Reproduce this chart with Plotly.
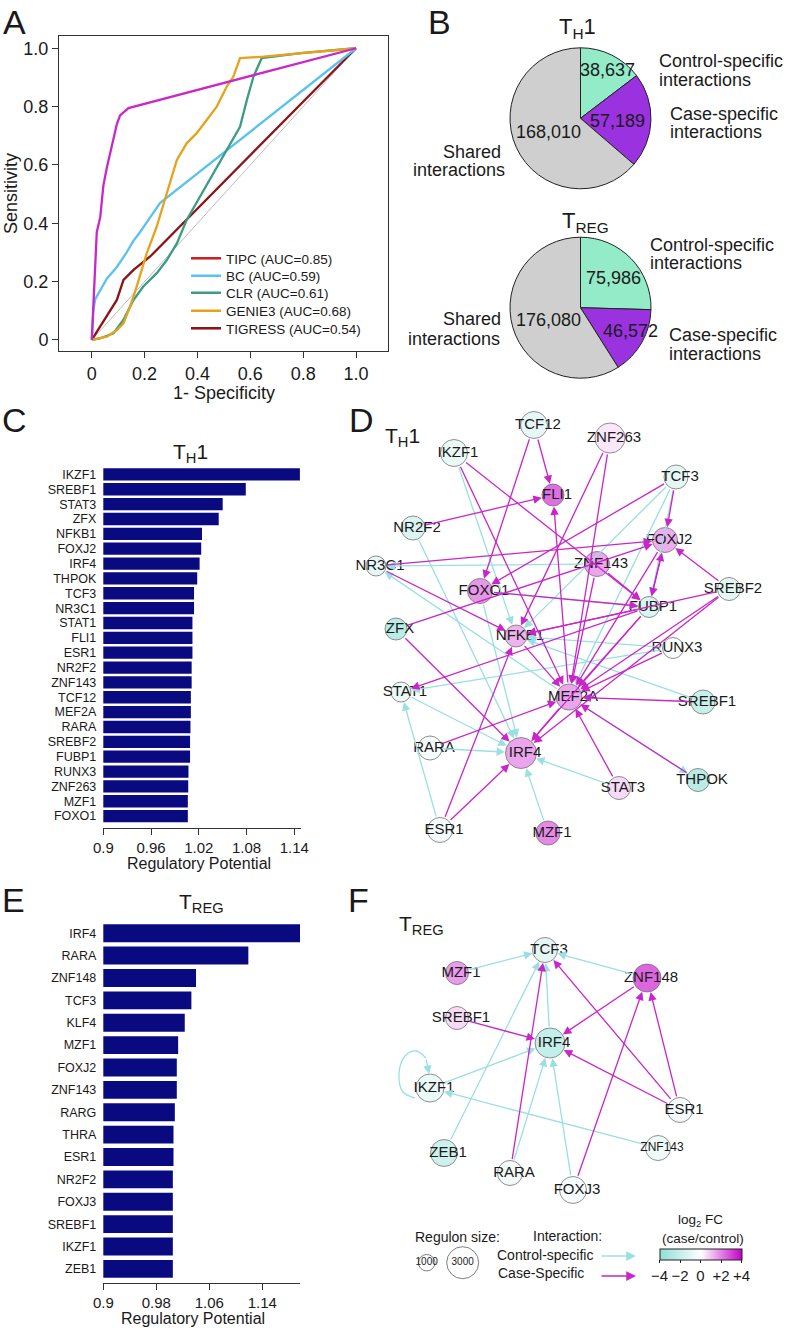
import plotly.graph_objects as go

W, H = 796, 1328


def X(px):
    return px / W


def Y(py):
    return 1 - py / H


SANS = "Liberation Sans, Arial, Helvetica, sans-serif"
INK = "#1a1a1a"

# ---------------- A: ROC curves ----------------
roc_names = ["TIPC (AUC=0.85)", "BC (AUC=0.59)", "CLR (AUC=0.61)",
             "GENIE3 (AUC=0.68)", "TIGRESS (AUC=0.54)"]
tipc_fpr = [0, 0.006, 0.013, 0.019, 0.032, 0.044, 0.057, 0.076, 0.095, 0.107, 0.12, 0.139, 1.0]
tipc_tpr = [0, 0.12, 0.25, 0.37, 0.42, 0.53, 0.59, 0.67, 0.74, 0.77, 0.78, 0.795, 1.0]
bc_fpr = [0, 0.006, 0.013, 0.032, 0.057, 0.095, 0.132, 0.158, 0.183, 0.221, 0.259, 1.0]
bc_tpr = [0, 0.10, 0.14, 0.17, 0.21, 0.25, 0.30, 0.34, 0.37, 0.42, 0.47, 1.0]
clr_fpr = [0, 0.03, 0.06, 0.082, 0.12, 0.158, 0.195, 0.246, 0.284, 0.322, 0.359, 0.41,
           0.46, 0.511, 0.561, 0.587, 0.612, 0.643, 0.79, 1.0]
clr_tpr = [0, 0.005, 0.015, 0.023, 0.069, 0.137, 0.183, 0.229, 0.274, 0.331, 0.411, 0.491,
           0.571, 0.651, 0.731, 0.823, 0.903, 0.966, 0.983, 1.0]
genie3_fpr = [0, 0.057, 0.095, 0.12, 0.145, 0.17, 0.208, 0.246, 0.284, 0.322, 0.359, 0.397,
              0.435, 0.473, 0.511, 0.536, 0.561, 0.65, 1.0]
genie3_tpr = [0, 0.011, 0.034, 0.057, 0.114, 0.183, 0.297, 0.389, 0.503, 0.617, 0.674, 0.709,
              0.754, 0.80, 0.869, 0.903, 0.966, 0.971, 1.0]
tigress_fpr = [0, 0.032, 0.057, 0.095, 0.12, 0.158, 0.221, 1.0]
tigress_tpr = [0, 0.046, 0.086, 0.137, 0.206, 0.24, 0.286, 1.0]
roc_ticks = [0, 0.2, 0.4, 0.6, 0.8, 1.0]
roc_ticktext = ["0", "0.2", "0.4", "0.6", "0.8", "1.0"]

# ---------------- B: pies ----------------
pie_labels = ["Control-specific interactions", "Case-specific interactions", "Shared interactions"]
th1_counts = [38637, 57189, 168010]
treg_counts = [75986, 46572, 176080]

# ---------------- C / E: regulatory potential ----------------
th1_tfs = ["IKZF1", "SREBF1", "STAT3", "ZFX", "NFKB1", "FOXJ2", "IRF4", "THPOK", "TCF3",
           "NR3C1", "STAT1", "FLI1", "ESR1", "NR2F2", "ZNF143", "TCF12", "MEF2A", "RARA",
           "SREBF2", "FUBP1", "RUNX3", "ZNF263", "MZF1", "FOXO1"]
th1_rp = [1.147, 1.079, 1.050, 1.045, 1.024, 1.023, 1.021, 1.018, 1.014, 1.014, 1.012, 1.012,
          1.012, 1.011, 1.011, 1.010, 1.010, 1.0095, 1.009, 1.009, 1.007, 1.0067, 1.0062, 1.0062]
th1_ticks = [0.9, 0.96, 1.02, 1.08, 1.14]
treg_tfs = ["IRF4", "RARA", "ZNF148", "TCF3", "KLF4", "MZF1", "FOXJ2", "ZNF143", "RARG",
            "THRA", "ESR1", "NR2F2", "FOXJ3", "SREBF1", "IKZF1", "ZEB1"]
treg_rp = [1.197, 1.119, 1.040, 1.033, 1.023, 1.013, 1.011, 1.011, 1.008, 1.006, 1.006,
           1.005, 1.005, 1.005, 1.005, 1.005]
treg_ticks = [0.9, 0.98, 1.06, 1.14]

# ---------------- D: TH1 network ----------------
d_nodes = ["TCF12", "ZNF263", "IKZF1", "FLI1", "TCF3", "NR2F2", "FOXJ2", "NR3C1", "ZNF143",
           "SREBF2", "FOXO1", "FUBP1", "ZFX", "NFKB1", "RUNX3", "STAT1", "MEF2A", "SREBF1",
           "RARA", "IRF4", "STAT3", "THPOK", "ESR1", "MZF1"]
d_x = [534, 610, 454, 553, 676, 413, 665, 376, 597, 729, 480, 649, 396, 516, 673, 401, 569,
       703, 430, 521, 619, 698, 440, 548]
d_y = [425, 438, 453, 495, 477, 528, 540, 566, 564, 589, 591, 607, 629, 636, 648, 692, 697,
       702, 748, 753, 788, 780, 830, 833]
d_fc = [-1.2, 0.5, -1.0, 3.2, -1.3, -1.8, 1.8, -1.2, 2.0, -1.3, 2.3, -1.8, -3.5, 1.7, -0.3,
        -1.0, 2.0, -2.8, -0.5, 2.0, 0.8, -3.5, -0.5, 2.6]
d_size = [2350, 2740, 2350, 1710, 1970, 1970, 2100, 1450, 2100, 1840, 2100, 1580, 1710, 1710,
          1580, 1450, 2230, 1970, 1970, 2870, 1840, 1840, 2100, 1970]
d_case_src = ["TCF12", "TCF12", "ZNF263", "ZNF263", "IKZF1", "IKZF1", "NR2F2", "TCF3", "TCF3",
              "NR3C1", "NR3C1", "FOXO1", "ZFX", "ZFX", "ZNF143", "ZNF143", "FOXJ2", "FUBP1",
              "FOXJ2", "SREBF2", "SREBF2", "SREBF2", "FUBP1", "FUBP1", "FUBP1", "MEF2A",
              "RUNX3", "SREBF1", "THPOK", "STAT3", "RARA", "ESR1", "ESR1", "NFKB1", "MEF2A",
              "FUBP1", "SREBF2"]
d_case_tgt = ["FLI1", "FOXO1", "NFKB1", "MEF2A", "MEF2A", "FUBP1", "FLI1", "FOXJ2", "FOXO1",
              "FOXJ2", "NFKB1", "FUBP1", "FOXJ2", "IRF4", "FUBP1", "MEF2A", "FUBP1", "FOXJ2",
              "MEF2A", "FOXJ2", "NFKB1", "MEF2A", "NFKB1", "MEF2A", "STAT1", "FLI1",
              "MEF2A", "MEF2A", "MEF2A", "MEF2A", "MEF2A", "NFKB1", "IRF4", "MEF2A", "IRF4",
              "IRF4", "IRF4"]
d_ctrl_src = ["IKZF1", "NR2F2", "TCF3", "TCF3", "TCF3", "ZNF143", "MEF2A", "FOXO1", "RUNX3",
              "RUNX3", "SREBF1", "MEF2A", "STAT1", "RARA", "ESR1", "MZF1", "STAT3", "FOXO1"]
d_ctrl_tgt = ["NFKB1", "IRF4", "NFKB1", "MEF2A", "FUBP1", "NR3C1", "NR3C1", "FUBP1", "NFKB1",
              "STAT1", "NFKB1", "THPOK", "IRF4", "IRF4", "STAT1", "IRF4", "IRF4", "IRF4"]

# ---------------- F: TREG network ----------------
f_nodes = ["TCF3", "MZF1", "ZNF148", "SREBF1", "IRF4", "IKZF1", "ESR1", "ZEB1", "ZNF143",
           "RARA", "FOXJ3"]
f_x = [545, 457, 647, 457, 550, 430, 680, 444, 658, 510, 573]
f_y = [950, 973, 978, 1018, 1043, 1088, 1110, 1153, 1148, 1173, 1190]
f_fc = [-1.3, 2.2, 3.4, 0.8, -3.0, -1.0, -0.5, -2.5, -0.8, -0.6, -0.4]
f_size = [2100, 1840, 2480, 1840, 2740, 2480, 2100, 2350, 2100, 2100, 2350]
f_case_src = ["RARA", "SREBF1", "ZNF148", "ESR1", "ESR1", "ESR1", "FOXJ3"]
f_case_tgt = ["TCF3", "IRF4", "IRF4", "IRF4", "TCF3", "ZNF148", "ZNF148"]
f_ctrl_src = ["MZF1", "ZNF148", "IRF4", "ZEB1", "IKZF1", "RARA", "FOXJ3", "ZNF143"]
f_ctrl_tgt = ["TCF3", "TCF3", "TCF3", "TCF3", "IRF4", "IRF4", "IRF4", "IKZF1"]
f_self_loops = ["IKZF1"]
legend_sizes = [1000, 3000]
fc_ticks = [-4, -2, 0, 2, 4]
fc_ticktext = ["\u22124", "\u22122", "0", "+2", "+4"]

# ---------------- styles ----------------
ROC_LINE = ["#C828C8", "#5BC2F0", "#3C9C84", "#E6A21A", "#8E1414"]
ROC_KEY = ["#CC2020", "#5BC2F0", "#3C9C84", "#E6A21A", "#8E1414"]
PIE_COLORS = ["#93EBC8", "#9A32E0", "#CFCFCF"]
NAVY = "#0A0A80"
CASE = "#C826C8"
CTRL = "#9ADFE2"
FC_SCALE = [[0, "#8FDFD6"], [0.5, "#FFFFFF"], [1, "#C400C8"]]


def diam(s):
    return 8.75 + 0.00775 * s


fig = go.Figure()
ann = []


def text_at(t, px, py, size, xanchor="center", yanchor="middle", **kw):
    d = dict(x=X(px), y=Y(py), xref="paper", yref="paper", text=t, showarrow=False,
             xanchor=xanchor, yanchor=yanchor, font=dict(size=size, color=INK))
    d.update(kw)
    ann.append(d)


# ---- A ----
fig.add_trace(go.Scatter(x=[0, 1], y=[0, 1], mode="lines", line=dict(color="#BDBDBD", width=1),
                         showlegend=False, hoverinfo="skip", xaxis="x", yaxis="y"))
roc_data = [(tipc_fpr, tipc_tpr), (bc_fpr, bc_tpr), (clr_fpr, clr_tpr),
            (genie3_fpr, genie3_tpr), (tigress_fpr, tigress_tpr)]
for idx in [4, 1, 2, 3, 0]:
    fx, ty = roc_data[idx]
    fig.add_trace(go.Scatter(x=fx, y=ty, mode="lines", line=dict(color=ROC_LINE[idx], width=2.3),
                             name=roc_names[idx], showlegend=False, xaxis="x", yaxis="y"))
key_y = [258.5, 276, 293, 311, 328.5]
legend_layout = {}
for i, name in enumerate(roc_names):
    lname = "legend" if i == 0 else "legend%d" % (i + 1)
    fig.add_trace(go.Scatter(x=[None], y=[None], mode="lines", line=dict(color=ROC_KEY[i], width=2.6),
                             name=name, legend=lname, showlegend=True, xaxis="x", yaxis="y"))
    legend_layout[lname] = dict(x=X(186), y=Y(key_y[i]), xanchor="left", yanchor="middle",
                                bgcolor="rgba(0,0,0,0)", borderwidth=0, itemwidth=30,
                                font=dict(size=13.5, color=INK))
text_at("Sensitivity", 11, 194, 18, textangle=-90)
text_at("1- Specificity", 224, 393, 18)

# ---- B ----
for counts, cy in [(th1_counts, 118.3), (treg_counts, 307.7)]:
    fig.add_trace(go.Pie(values=counts, labels=pie_labels, sort=False, direction="clockwise",
                         rotation=0, textinfo="none", showlegend=False,
                         marker=dict(colors=PIE_COLORS, line=dict(color="#222222", width=1)),
                         domain=dict(x=[X(580.5 - 70.5), X(580.5 + 70.5)],
                                     y=[Y(cy + 70.5), Y(cy - 70.5)])))
num_pos = [[(607, 70), (617, 121), (548, 132)], [(613, 278), (630, 331), (548, 320)]]
for counts, pos in zip([th1_counts, treg_counts], num_pos):
    for v, (px, py) in zip(counts, pos):
        text_at(f"{v:,}", px, py, 18)
pie_text = [
    ("Control-specific", 656.7, 61, "left"), ("interactions", 656.7, 80, "left"),
    ("Case-specific", 668.3, 113.5, "left"), ("interactions", 668.3, 132, "left"),
    ("Shared", 471.7, 151.5, "center"), ("interactions", 459, 170, "center"),
    ("Control-specific", 648.3, 245, "left"), ("interactions", 648.3, 263.5, "left"),
    ("Case-specific", 666.7, 335, "left"), ("interactions", 666.7, 353.5, "left"),
    ("Shared", 471.7, 319, "center"), ("interactions", 454, 338.5, "center"),
]
for t, px, py, anc in pie_text:
    text_at(t, px, py, 18, xanchor=anc)
text_at("T<sub>H</sub>1", 577, 28, 22)
text_at("T<sub>REG</sub>", 585, 222, 22)

# ---- C / E bars ----
fig.add_trace(go.Bar(x=th1_rp, y=th1_tfs, orientation="h", width=0.83,
                     marker=dict(color=NAVY, line=dict(width=0)), showlegend=False,
                     xaxis="x2", yaxis="y2"))
fig.add_trace(go.Bar(x=treg_rp, y=treg_tfs, orientation="h", width=0.8,
                     marker=dict(color=NAVY, line=dict(width=0)), showlegend=False,
                     xaxis="x3", yaxis="y3"))
text_at("T<sub>H</sub>1", 190, 453, 21)
text_at("T<sub>REG</sub>", 201.7, 903, 21)
text_at("Regulatory Potential", 199, 863, 16)
text_at("Regulatory Potential", 193, 1318, 16)


# ---- networks ----
def add_network(nodes, nx, ny, fc, sizes, case_s, case_t, ctrl_s, ctrl_t, xa, ya, showscale,
                small=()):
    pos = {n: (x, y) for n, x, y in zip(nodes, nx, ny)}
    rad = {n: diam(s) / 2 for n, s in zip(nodes, sizes)}
    marker = dict(size=[diam(s) for s in sizes], color=fc, colorscale=FC_SCALE, cmin=-4, cmax=4,
                  line=dict(color="#3a3a3a", width=0.8), showscale=showscale)
    if showscale:
        marker["colorbar"] = dict(orientation="h", x=X(700.5), xanchor="center", y=Y(1267),
                                  yanchor="middle", len=82.4 / W, lenmode="fraction",
                                  thickness=11, thicknessmode="pixels", xpad=0, ypad=0,
                                  outlinecolor="#222", outlinewidth=1, ticks="outside",
                                  ticklen=3, tickcolor="#222", tickvals=fc_ticks,
                                  ticktext=fc_ticktext, tickfont=dict(size=15, color=INK))
    fig.add_trace(go.Scatter(x=nx, y=ny, mode="markers", marker=marker, showlegend=False,
                             hovertext=nodes, xaxis=xa, yaxis=ya))
    fig.add_trace(go.Scatter(x=[v + 4 for v in nx], y=ny, mode="text", text=nodes,
                             textfont=dict(size=[12 if n in small else 15 for n in nodes],
                                           color=INK),
                             showlegend=False, hoverinfo="skip", xaxis=xa, yaxis=ya))
    for srcs, tgts, col in [(ctrl_s, ctrl_t, CTRL), (case_s, case_t, CASE)]:
        for s, t in zip(srcs, tgts):
            ann.append(dict(x=pos[t][0], y=pos[t][1], ax=pos[s][0], ay=pos[s][1],
                            xref=xa, yref=ya, axref=xa, ayref=ya, text="", showarrow=True,
                            arrowhead=2, arrowsize=1.3, arrowwidth=1.3, arrowcolor=col,
                            standoff=rad[t] + 0.5, startstandoff=rad[s]))
    return pos, rad


add_network(d_nodes, d_x, d_y, d_fc, d_size, d_case_src, d_case_tgt, d_ctrl_src, d_ctrl_tgt,
            "x4", "y4", False)
fpos, frad = add_network(f_nodes, f_x, f_y, f_fc, f_size, f_case_src, f_case_tgt, f_ctrl_src,
                         f_ctrl_tgt, "x5", "y5", True, small=("ZNF143",))

# self loop(s)
for n in f_self_loops:
    cx, cy = fpos[n]
    lx = [-15, -27, -31, -25, -14, -4]
    ly = [10, 4, -14, -32, -37, -30]
    fig.add_trace(go.Scatter(x=[cx + a for a in lx], y=[cy + b for b in ly], mode="lines",
                             line=dict(color=CTRL, width=1.3, shape="spline"), showlegend=False,
                             hoverinfo="skip", xaxis="x5", yaxis="y5"))
    ann.append(dict(x=cx - 1, y=cy - frad[n], ax=cx - 4, ay=cy - 30, xref="x5", yref="y5",
                    axref="x5", ayref="y5", text="", showarrow=True, arrowhead=2, arrowsize=1.3,
                    arrowwidth=1.3, arrowcolor=CTRL))

# F legend
fig.add_trace(go.Scatter(x=[426.7, 462.7], y=[1262.7, 1262.7], mode="markers+text",
                         marker=dict(size=[diam(s) for s in legend_sizes], color="white",
                                     line=dict(color="#333", width=0.9)),
                         text=[str(s) for s in legend_sizes], textposition="middle center",
                         textfont=dict(size=10, color=INK),
                         showlegend=False, hoverinfo="skip", xaxis="x5", yaxis="y5"))
leg_text = [("Regulon size:", 413, 1237, "left", 14), ("Interaction:", 567, 1236, "center", 14),
            ("Control-specific", 495, 1255, "left", 14), ("Case-Specific", 496, 1273, "left", 14),
            ("log<sub>2</sub> FC", 700, 1220, "center", 13.5),
            ("(case/control)", 702.7, 1238, "center", 13.5)]
for t, px, py, anc, fs in leg_text:
    ann.append(dict(x=px, y=py, xref="x5", yref="y5", text=t, showarrow=False, xanchor=anc,
                    yanchor="middle", font=dict(size=fs, color=INK)))
for col, py in [(CTRL, 1256), (CASE, 1276)]:
    ann.append(dict(x=636, y=py, ax=600, ay=py, xref="x5", yref="y5", axref="x5", ayref="y5",
                    text="", showarrow=True, arrowhead=2, arrowsize=1.3, arrowwidth=1.5,
                    arrowcolor=col))

text_at("T<sub>H</sub>1", 402, 437, 21)
text_at("T<sub>REG</sub>", 421.7, 925, 21)

# panel letters
for t, px, py in [("A", 14, 22), ("B", 440, 22), ("C", 14, 420), ("D", 361, 420),
                  ("E", 13, 900), ("F", 358, 900)]:
    text_at(t, px, py, 34)

axis_common = dict(showgrid=False, zeroline=False, ticks="outside", tickcolor="#333",
                   linecolor="#333", linewidth=1, showline=True)
net_axis = dict(visible=False, showgrid=False, zeroline=False, fixedrange=True)
cat_axis = dict(type="category", showline=False, ticks="", showgrid=False, zeroline=False,
                dtick=1, tickfont=dict(size=12.5), ticklabelstandoff=6)

fig.update_layout(
    width=W, height=H, autosize=False, template="none",
    margin=dict(l=0, r=0, t=0, b=0, pad=0),
    paper_bgcolor="white", plot_bgcolor="white",
    font=dict(family=SANS, size=15, color=INK),
    annotations=ann,
    xaxis=dict(domain=[X(59), X(388)], range=[-0.124, 1.121], tickvals=roc_ticks,
               ticktext=roc_ticktext, ticklen=6, mirror=True, anchor="y",
               tickfont=dict(size=18), **axis_common),
    yaxis=dict(domain=[Y(351), Y(36)], range=[-0.038, 1.042], tickvals=roc_ticks,
               ticktext=roc_ticktext, ticklen=6, mirror=True, anchor="x",
               tickfont=dict(size=18), **axis_common),
    xaxis2=dict(domain=[X(103.3), X(300.7)], range=[0.9, 1.148], tickvals=th1_ticks,
                ticktext=["0.9", "0.96", "1.02", "1.08", "1.14"], ticklen=6, anchor="y2",
                tickfont=dict(size=15), **axis_common),
    yaxis2=dict(domain=[Y(828), Y(467)], range=[23.8, -0.5], anchor="x2", **cat_axis),
    xaxis3=dict(domain=[X(103.3), X(300)], range=[0.9, 1.197], tickvals=treg_ticks,
                ticktext=["0.9", "0.98", "1.06", "1.14"], ticklen=6, anchor="y3",
                tickfont=dict(size=15), **axis_common),
    yaxis3=dict(domain=[Y(1283), Y(922)], range=[15.63, -0.5], anchor="x3", **cat_axis),
    xaxis4=dict(domain=[X(350), X(796)], range=[350, 796], anchor="y4", **net_axis),
    yaxis4=dict(domain=[Y(860), Y(400)], range=[860, 400], anchor="x4", **net_axis),
    xaxis5=dict(domain=[X(350), X(796)], range=[350, 796], anchor="y5", **net_axis),
    yaxis5=dict(domain=[Y(1328), Y(860)], range=[1328, 860], anchor="x5", **net_axis),
    **legend_layout,
)

fig.write_html("out.html", config={"displayModeBar": False},
               post_script="document.body.style.margin='0px';")
